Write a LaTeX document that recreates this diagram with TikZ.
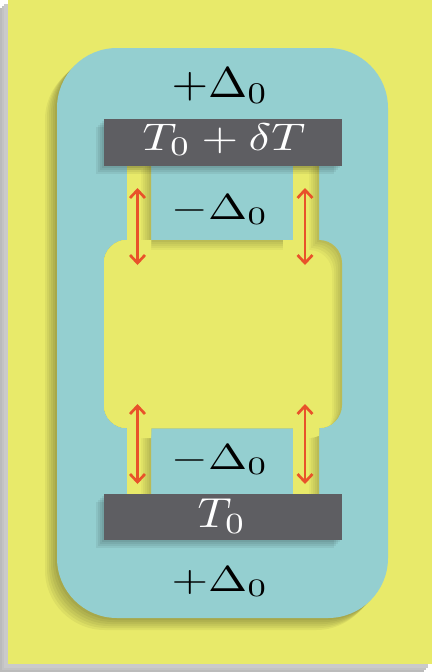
\documentclass[tikz,border=0pt]{standalone}
\usepackage{graphicx}
\usetikzlibrary{arrows.meta}
\definecolor{bgyellow}{RGB}{232,234,106}
\definecolor{tealc}{RGB}{148,207,208}
\definecolor{barc}{RGB}{94,94,98}
\definecolor{arrc}{RGB}{232,82,42}
\definecolor{frameshadow}{RGB}{180,180,180}
\tikzset{
  lbl/.style={inner sep=0pt, anchor=base},
  barlbl/.style={lbl, text=white},
  barbox/.style={fill=barc, inner sep=0pt},
  dblarrow/.style={draw=arrc, line width=2.7pt,
    {Straight Barb[length=8pt,width=15pt,line width=2.7pt]}-{Straight Barb[length=8pt,width=15pt,line width=2.7pt]}},
}
\newcommand{\bigrect}{[rounded corners=23pt] (104,240) rectangle (342,428)}
\newcommand{\holepath}{(127,160) rectangle (151,250) (293,160) rectangle (319,250) (127,418) rectangle (151,500) (293,418) rectangle (319,500) \bigrect}
\newcommand{\bigtext}[2]{\scalebox{4.7}[#1]{$#2$}}
\begin{document}
\begin{tikzpicture}[x=1pt,y=-1pt]
\useasboundingbox (0,0) rectangle (432,672);
% background with its shadow
\foreach \s/\c in {8/90,6/80,4/70}
  \fill[frameshadow!\c!white] ({8-\s},{0+\s}) rectangle ({432-\s},{664+\s});
\fill[bgyellow] (8,0) rectangle (432,664);
% shadow of the teal shape
\foreach \s in {2,4,6,8,10,12}
  \fill[black, opacity=0.05, rounded corners=60pt] ({57-\s},{48+\s}) rectangle ({388-\s},{618+\s});
\fill[tealc, rounded corners=60pt] (57,48) rectangle (388,618);
% inner yellow region with inner shadow
\begin{scope}
  \clip \holepath;
  \fill[bgyellow!80!black] (90,150) rectangle (360,510);
  \foreach \s/\c in {2/84,4/88,6/92,8/96,10/100}{
    \begin{scope}[shift={(-\s,\s)}]
      \fill[bgyellow!\c!black] \holepath;
    \end{scope}
    \begin{scope}
      \clip (80,230) rectangle (151,440);
      \begin{scope}[shift={(-\s,0)}]
        \fill[bgyellow!\c!black] \bigrect;
      \end{scope}
    \end{scope}
  }
\end{scope}
% bar shadows
\foreach \s in {2,4,6,8}{
  \fill[black, opacity=0.06] ({104-\s},{119+\s}) rectangle ({342-\s},{166+\s});
  \fill[black, opacity=0.06] ({104-\s},{494+\s}) rectangle ({342-\s},{540+\s});
}
% bars
\node[barbox, minimum width=238pt, minimum height=47pt] (topbar) at (223,142.5) {};
\node[barbox, minimum width=238pt, minimum height=46pt] (botbar) at (223,517) {};
% labels
\node[lbl] (plustop) at (220,97) {\bigtext{4.3}{+\Delta_0}};
\node[barlbl] (tdt) at (224,150) {\bigtext{3.85}{T_0+\delta T}};
\node[lbl] (minustop) at (220,219) {\bigtext{3.6}{-\Delta_0}};
\node[lbl] (minusbot) at (220,469) {\bigtext{3.6}{-\Delta_0}};
\node[barlbl] (tzero) at (222,527) {\bigtext{4.2}{T_0}};
\node[lbl] (plusbot) at (220,591) {\bigtext{3.6}{+\Delta_0}};
% arrows
\coordinate (a1t) at (137.5,188);
\coordinate (a1b) at (137.5,265);
\coordinate (a2t) at (305,188);
\coordinate (a2b) at (305,265);
\coordinate (a3t) at (137.5,404);
\coordinate (a3b) at (137.5,484);
\coordinate (a4t) at (305,404);
\coordinate (a4b) at (305,484);
\draw[dblarrow] (a1t) -- (a1b);
\draw[dblarrow] (a2t) -- (a2b);
\draw[dblarrow] (a3t) -- (a3b);
\draw[dblarrow] (a4t) -- (a4b);
\end{tikzpicture}
\end{document}
